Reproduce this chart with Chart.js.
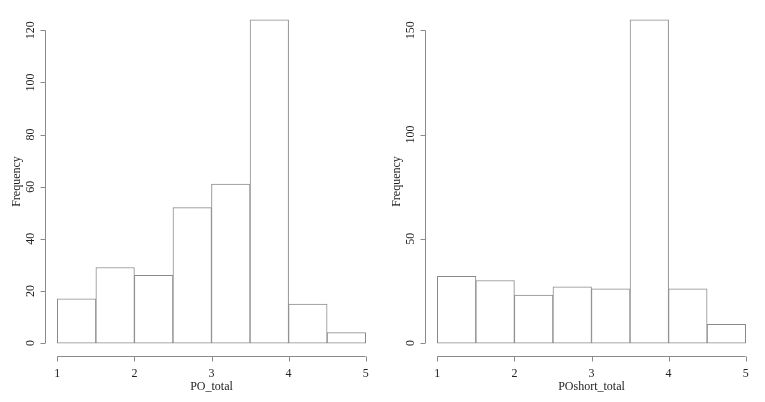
<!DOCTYPE html>
<html>
<head>
<meta charset="utf-8">
<script src="https://cdn.jsdelivr.net/npm/chart.js@4"></script>
<style>
  html, body { margin: 0; padding: 0; background: #fff; }
  #wrap { display: flex; width: 765px; height: 402px; }
  canvas { display: block; }
</style>
</head>
<body>
<div id="wrap">
  <canvas id="histPO" width="382" height="402"></canvas>
  <canvas id="histPOshort" width="383" height="402"></canvas>
</div>
<script>
// bin midpoints (bins of width 0.5 from 1 to 5)
const binMids = [1.25, 1.75, 2.25, 2.75, 3.25, 3.75, 4.25, 4.75];
const poTotal = [17, 29, 26, 52, 61, 124, 15, 4];
const poShortTotal = [32, 30, 23, 27, 26, 155, 26, 9];
const xTicks = [1, 2, 3, 4, 5];
const yTicksPO = [0, 20, 40, 60, 80, 100, 120];
const yTicksPOshort = [0, 50, 100, 150];

const FONT = '"Liberation Serif", "DejaVu Serif", serif';
const LINE = '#8a8a8a';
const TEXT = '#222';

// R style axes: detached, only spanning the tick range
const ejesR = {
    id: 'ejesR',
    afterDraw(chart, args, opts) {
        const ctx = chart.ctx;
        const area = chart.chartArea;
        const xs = chart.scales.x;
        const ys = chart.scales.y;
        ctx.save();
        ctx.strokeStyle = LINE;
        ctx.lineWidth = 1;
        ctx.fillStyle = TEXT;
        ctx.font = '12px ' + FONT;

        // eje x
        const xa = Math.round(area.bottom) + 0.5;
        ctx.beginPath();
        ctx.moveTo(xs.getPixelForValue(opts.xTicks[0]), xa);
        ctx.lineTo(xs.getPixelForValue(opts.xTicks[opts.xTicks.length - 1]), xa);
        opts.xTicks.forEach(t => {
            const px = Math.round(xs.getPixelForValue(t)) + 0.5;
            ctx.moveTo(px, xa);
            ctx.lineTo(px, xa + 5);
        });
        ctx.stroke();
        ctx.textAlign = 'center';
        ctx.textBaseline = 'middle';
        opts.xTicks.forEach(t => {
            ctx.fillText(String(t), xs.getPixelForValue(t), xa + 17);
        });
        ctx.fillText(opts.xTitle, (area.left + area.right) / 2, xa + 30);

        // eje y
        const ya = Math.round(area.left) + 0.5;
        ctx.beginPath();
        ctx.moveTo(ya, ys.getPixelForValue(opts.yTicks[0]));
        ctx.lineTo(ya, ys.getPixelForValue(opts.yTicks[opts.yTicks.length - 1]));
        opts.yTicks.forEach(t => {
            const py = Math.round(ys.getPixelForValue(t)) + 0.5;
            ctx.moveTo(ya, py);
            ctx.lineTo(ya - 5, py);
        });
        ctx.stroke();
        opts.yTicks.forEach(t => {
            ctx.save();
            ctx.translate(ya - 15, ys.getPixelForValue(t));
            ctx.rotate(-Math.PI / 2);
            ctx.fillText(String(t), 0, 0);
            ctx.restore();
        });
        ctx.save();
        ctx.translate(ya - 29, (area.top + area.bottom) / 2);
        ctx.rotate(-Math.PI / 2);
        ctx.fillText('Frequency', 0, 0);
        ctx.restore();

        ctx.restore();
    }
};

function generarHistograma(idCanvas, valores, yTicks, titulo, padIzq, padDer) {
    const ctx = document.getElementById(idCanvas).getContext('2d');
    const maxVal = Math.max(...valores);
    const ext = 0.04 * maxVal;

    return new Chart(ctx, {
        type: 'bar',
        data: {
            datasets: [{
                data: binMids.map((m, i) => ({ x: m, y: valores[i] })),
                backgroundColor: '#ffffff',
                borderColor: LINE,
                borderWidth: 1,
                borderSkipped: false,
                barPercentage: 1,
                categoryPercentage: 1
            }]
        },
        options: {
            responsive: false,
            animation: false,
            layout: { padding: { left: padIzq, right: padDer, top: 7, bottom: 46 } },
            scales: {
                x: { type: 'linear', display: false, offset: false, min: 1 - 0.16, max: 5 + 0.16 },
                y: { type: 'linear', display: false, min: -ext, max: maxVal + ext }
            },
            plugins: {
                legend: { display: false },
                tooltip: { enabled: false },
                ejesR: { xTicks: xTicks, yTicks: yTicks, xTitle: titulo }
            }
        },
        plugins: [ejesR]
    });
}

generarHistograma('histPO', poTotal, yTicksPO, 'PO_total', 45, 4);
generarHistograma('histPOshort', poShortTotal, yTicksPOshort, 'POshort_total', 43, 7);
</script>
</body>
</html>
